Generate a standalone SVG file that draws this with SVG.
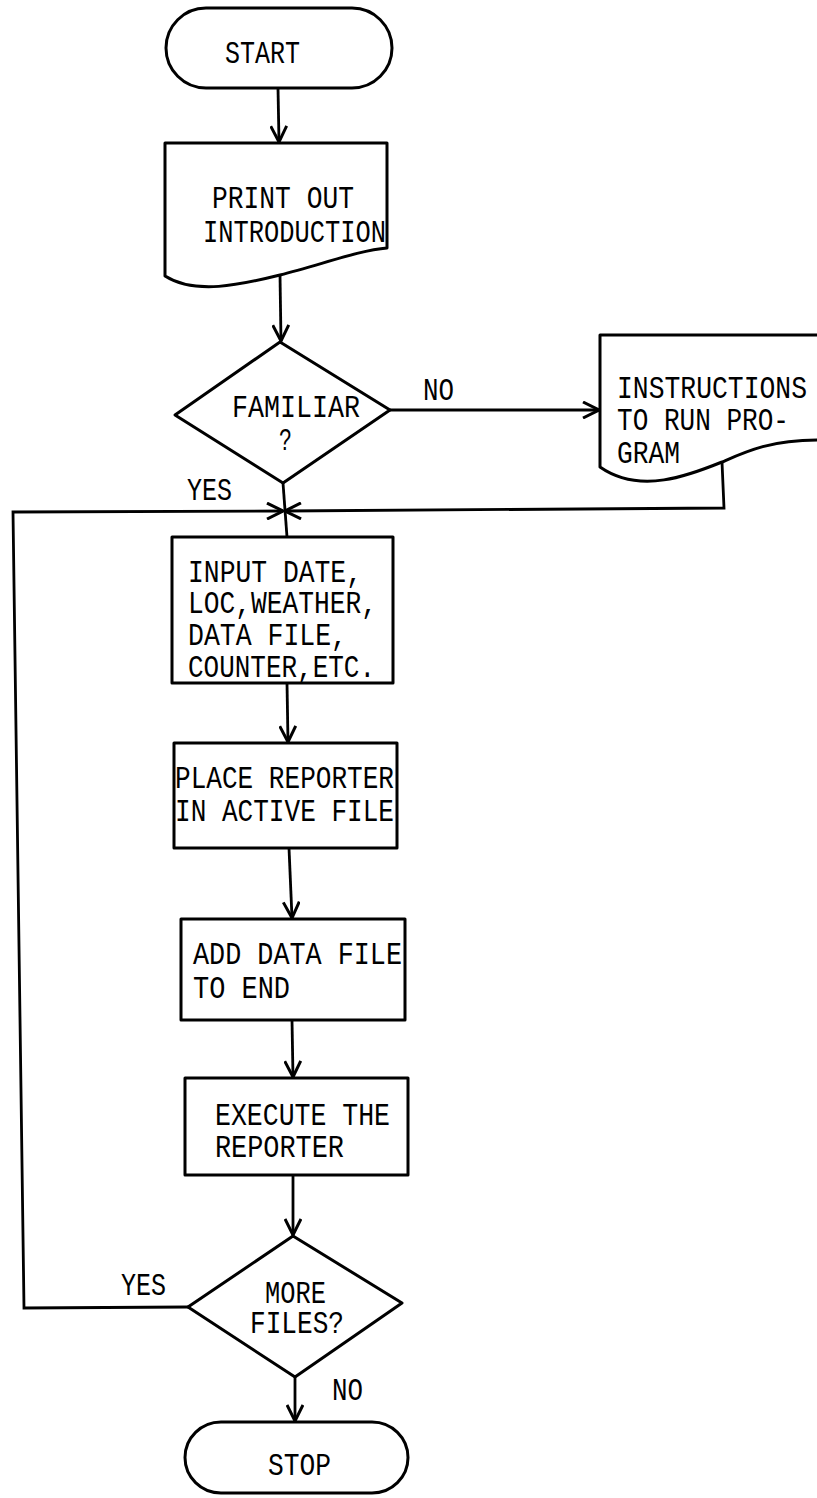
<svg xmlns="http://www.w3.org/2000/svg" width="817" height="1498" viewBox="0 0 817 1498">
<style>
.s{fill:#fff;stroke:#000;stroke-width:3;stroke-linejoin:round}
.c{fill:none;stroke:#000;stroke-width:2.8}
text{font-family:"Liberation Mono","DejaVu Sans Mono",monospace;font-size:31px;fill:#000}
</style>
<defs>
<marker id="a" viewBox="0 0 18 18" refX="17" refY="9" markerWidth="18" markerHeight="18" markerUnits="userSpaceOnUse" orient="auto">
<path d="M1,1 L17,9 L1,17" fill="none" stroke="#000" stroke-width="3"/>
</marker>
</defs>
<rect width="817" height="1498" fill="#fff"/>
<g id="connectors">
<path class="c" d="M278,88 L279,142" marker-end="url(#a)"/>
<path class="c" d="M280,275 L281,341" marker-end="url(#a)"/>
<path class="c" d="M390,410 L599,410" marker-end="url(#a)"/>
<path class="c" d="M283,483 L287,537"/>
<path class="c" d="M722,462 L724,508 L285,511" marker-end="url(#a)"/>
<path class="c" d="M188,1307 L24,1308 L13,512 L283,511" marker-end="url(#a)"/>
<path class="c" d="M287,683 L288,742" marker-end="url(#a)"/>
<path class="c" d="M289,848 L292,918" marker-end="url(#a)"/>
<path class="c" d="M292,1020 L293,1077" marker-end="url(#a)"/>
<path class="c" d="M293,1175 L293,1235" marker-end="url(#a)"/>
<path class="c" d="M295,1377 L295,1421" marker-end="url(#a)"/>
<text x="423" y="400" textLength="31" lengthAdjust="spacingAndGlyphs">NO</text>
<text x="187" y="500" textLength="45" lengthAdjust="spacingAndGlyphs">YES</text>
<text x="121" y="1295" textLength="45" lengthAdjust="spacingAndGlyphs">YES</text>
<text x="332" y="1400" textLength="31" lengthAdjust="spacingAndGlyphs">NO</text>
</g>
<g id="start">
<rect class="s" x="166" y="8" width="226" height="80" rx="40" ry="40"/>
<text x="225" y="63" textLength="75" lengthAdjust="spacingAndGlyphs">START</text>
</g>
<g id="print">
<path class="s" d="M165,143 L387,143 L387,248 C360,250 320,265 280,275 C240,285 195,295 165,276 Z"/>
<text x="212" y="208" textLength="142" lengthAdjust="spacingAndGlyphs">PRINT OUT</text>
<text x="203" y="242" textLength="183" lengthAdjust="spacingAndGlyphs">INTRODUCTION</text>
</g>
<g id="familiar">
<path class="s" d="M280,342 L390,410 L283,483 L175,415 Z"/>
<text x="232" y="417" textLength="128" lengthAdjust="spacingAndGlyphs">FAMILIAR</text>
<text x="279" y="450" textLength="13" lengthAdjust="spacingAndGlyphs">?</text>
</g>
<g id="instructions">
<path class="s" d="M600,335 L830,335 L830,440 L817,440 C770,440 745,452 722,462 C690,475 640,495 600,467 Z"/>
<text x="617" y="398" textLength="190" lengthAdjust="spacingAndGlyphs">INSTRUCTIONS</text>
<text x="617" y="430" textLength="172" lengthAdjust="spacingAndGlyphs">TO RUN PRO-</text>
<text x="617" y="463" textLength="63" lengthAdjust="spacingAndGlyphs">GRAM</text>
</g>
<g id="input">
<rect class="s" x="172" y="537" width="221" height="146"/>
<text x="188" y="582" textLength="174" lengthAdjust="spacingAndGlyphs">INPUT DATE,</text>
<text x="188" y="613" textLength="189" lengthAdjust="spacingAndGlyphs">LOC,WEATHER,</text>
<text x="188" y="645" textLength="159" lengthAdjust="spacingAndGlyphs">DATA FILE,</text>
<text x="188" y="677" textLength="187" lengthAdjust="spacingAndGlyphs">COUNTER,ETC.</text>
</g>
<g id="place">
<rect class="s" x="174" y="743" width="223" height="105"/>
<text x="175" y="788" textLength="219" lengthAdjust="spacingAndGlyphs">PLACE REPORTER</text>
<text x="175" y="821" textLength="219" lengthAdjust="spacingAndGlyphs">IN ACTIVE FILE</text>
</g>
<g id="add">
<rect class="s" x="181" y="919" width="224" height="101"/>
<text x="193" y="964" textLength="209" lengthAdjust="spacingAndGlyphs">ADD DATA FILE</text>
<text x="193" y="998" textLength="97" lengthAdjust="spacingAndGlyphs">TO END</text>
</g>
<g id="execute">
<rect class="s" x="185" y="1078" width="223" height="97"/>
<text x="215" y="1125" textLength="175" lengthAdjust="spacingAndGlyphs">EXECUTE THE</text>
<text x="215" y="1157" textLength="129" lengthAdjust="spacingAndGlyphs">REPORTER</text>
</g>
<g id="more">
<path class="s" d="M293,1236 L402,1303 L295,1377 L188,1307 Z"/>
<text x="265" y="1303" textLength="61" lengthAdjust="spacingAndGlyphs">MORE</text>
<text x="250" y="1333" textLength="94" lengthAdjust="spacingAndGlyphs">FILES?</text>
</g>
<g id="stop">
<rect class="s" x="185" y="1422" width="223" height="71" rx="36" ry="36"/>
<text x="268" y="1475" textLength="63" lengthAdjust="spacingAndGlyphs">STOP</text>
</g>
</svg>
